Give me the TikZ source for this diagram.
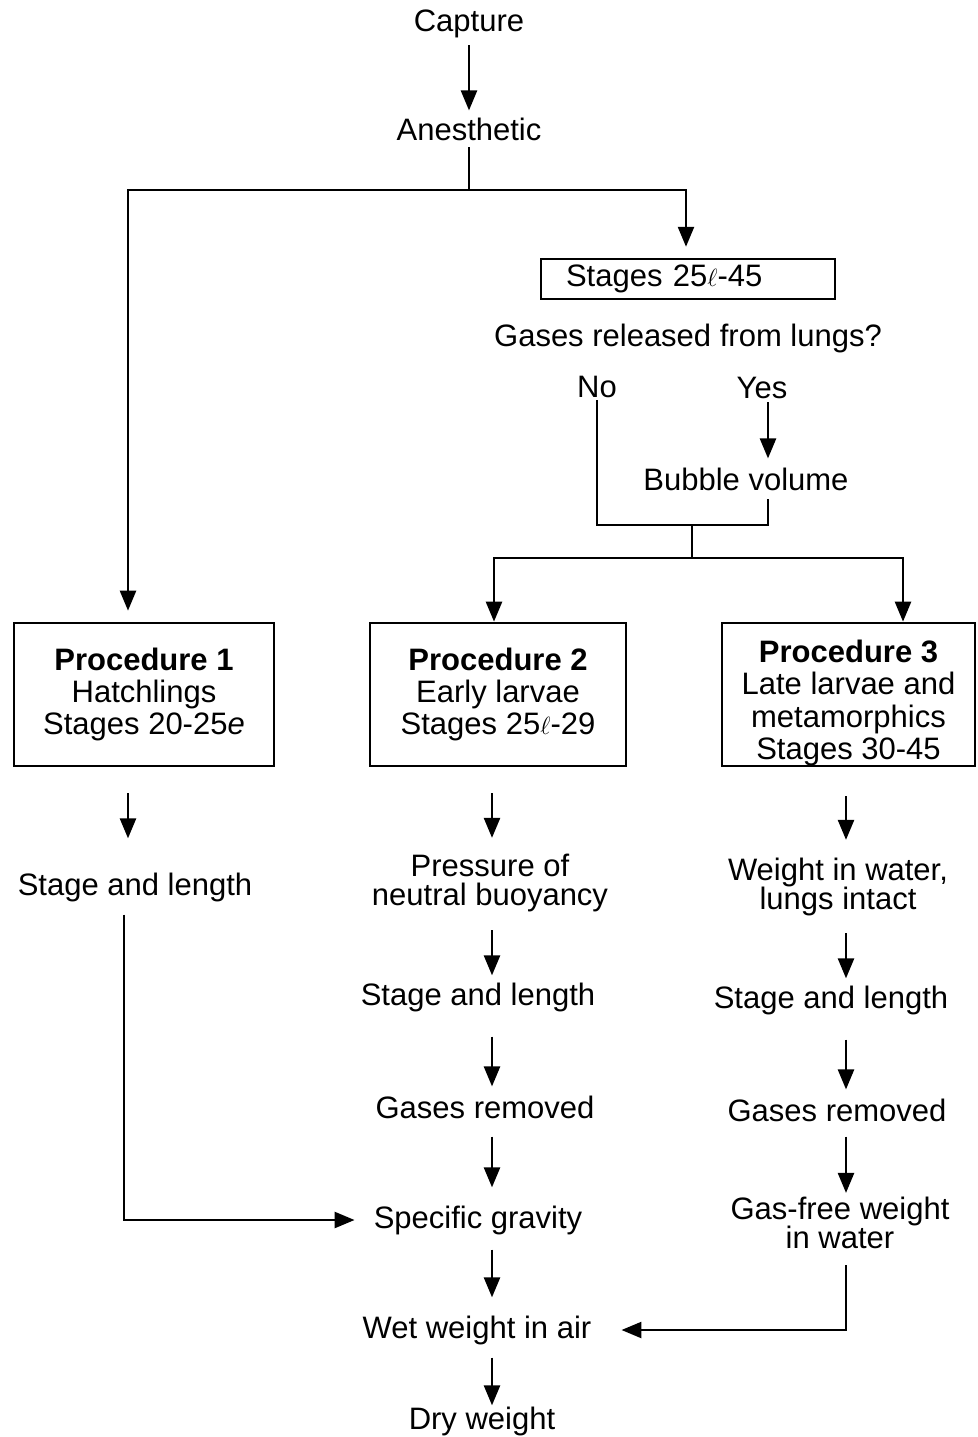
\documentclass[tikz,border=0pt]{standalone}
\usepackage{fontspec}
\setmainfont{Liberation Sans}
\usetikzlibrary{arrows.meta,calc}
\begin{document}
\begin{tikzpicture}[x=1pt,y=-1pt,
  txt/.style={inner sep=0pt, align=center, font=\fontsize{31}{29}\selectfont},
  procbox/.style={draw, line width=2.7pt, align=center, inner sep=0pt, font=\fontsize{31}{32}\selectfont},
  conn/.style={line width=2.5pt},
  arr/.style={conn, -{Triangle[width=16pt,length=20pt]}}]
\useasboundingbox (0,0) rectangle (977,1437);

% column coordinates
\coordinate (cL) at (128,0);
\coordinate (cLb) at (124,0);
\coordinate (cS) at (686,0);
\coordinate (cY) at (768,0);
\coordinate (c2a) at (494,0);
\coordinate (c3a) at (903,0);
\coordinate (c2) at (492,0);
\coordinate (c3) at (846,0);
\coordinate (split) at (469,190);
\coordinate (merge) at (692,525);
\coordinate (split2) at (692,558);

% top
\node[txt] (capture) at (469,24) {Capture};
\node[txt] (anest) at (469,129) {Anesthetic};
\node[draw, line width=2.5pt, minimum height=40pt, text width=244pt, align=left, inner xsep=25pt, inner ysep=0pt, font=\fontsize{31}{32}\selectfont] (stages) at (688,279) {Stages 25$\ell$-45};
\node[txt] (gq) at (688,338) {Gases released from lungs?};
\node[txt] (no) at (597,387) {No};
\node[txt] (yes) at (762,388) {Yes};
\node[txt] (bub) at (746,479) {Bubble volume};

% boxes
\node[procbox, minimum width=260pt, minimum height=143pt] (p1) at (144,694.5) {\textbf{Procedure 1}\\Hatchlings\\Stages 20-25\textit{e}};
\node[procbox, minimum width=256pt, minimum height=143pt] (p2) at (498,694.5) {\textbf{Procedure 2}\\Early larvae\\Stages 25$\ell$-29};
\node[procbox, minimum width=253pt, minimum height=143pt] (p3) at (848.5,694.5) {\raisebox{-10pt}[\height][\depth]{\begin{tabular}{@{}c@{}}\textbf{Procedure 3}\\Late larvae and\\metamorphics\\Stages 30-45\end{tabular}}};

% column 1
\node[txt] (st1) at (135,887) {Stage and length};
% column 2
\node[txt] (press) at (490,883) {Pressure of\\neutral buoyancy};
\node[txt] (st2) at (478,997) {Stage and length};
\node[txt] (gr2) at (485,1107) {Gases removed};
\node[txt] (spec) at (478,1220) {Specific gravity};
\node[txt] (wet) at (477,1330) {Wet weight in air};
\node[txt] (dry) at (482,1421) {Dry weight};
% column 3
\node[txt] (wiw) at (838,887) {Weight in water,\\lungs intact};
\node[txt] (st3) at (831,1000) {Stage and length};
\node[txt] (gr3) at (837,1110) {Gases removed};
\node[txt] (gf) at (840,1223) {Gas-free weight\\in water};

% connectors top
\draw[arr, shorten <=7pt, shorten >=7pt] (capture.south) -- (anest.north);
\draw[conn, shorten <=6.5pt] (anest.south) -- (split);
\draw[arr, shorten >=11pt] (split) -| (p1.north -| cL);
\draw[arr, shorten >=11pt] (split) -| (stages.north -| cS);
\draw[arr, shorten <=3pt, shorten >=9pt] (yes.south -| cY) -- (bub.north -| cY);
\draw[conn, shorten <=2pt, shorten >=8pt] (no.south) |- (merge) -| (bub.south -| cY);
\draw[conn] (merge) -- (split2);
\draw[arr] (split2) -| (p2.north -| c2a);
\draw[arr] (split2) -| (p3.north -| c3a);

% column 1 connectors
\draw[arr, shorten <=26pt, shorten >=34pt] (p1.south -| cL) -- (st1.north -| cL);
\draw[arr, shorten <=13pt, shorten >=19pt] (st1.south -| cLb) |- (spec.west);

% column 2 connectors
\draw[arr, shorten <=26pt, shorten >=16pt] (p2.south -| c2) -- (press.north -| c2);
\draw[arr, shorten <=18pt, shorten >=7pt] (press.south -| c2) -- (st2.north -| c2);
\draw[arr, shorten <=25pt, shorten >=9pt] (st2.south -| c2) -- (gr2.north -| c2);
\draw[arr, shorten <=18pt, shorten >=18pt] (gr2.south -| c2) -- (spec.north -| c2);
\draw[arr, shorten <=15pt, shorten >=18pt] (spec.south -| c2) -- (wet.north -| c2);
\draw[arr, shorten <=13pt, shorten >=1pt] (wet.south -| c2) -- (dry.north -| c2);

% column 3 connectors
\draw[arr, shorten <=29pt, shorten >=18pt] (p3.south -| c3) -- (wiw.north -| c3);
\draw[arr, shorten <=17pt, shorten >=7pt] (wiw.south -| c3) -- (st3.north -| c3);
\draw[arr, shorten <=25pt, shorten >=9pt] (st3.south -| c3) -- (gr3.north -| c3);
\draw[arr, shorten <=15pt, shorten >=4pt] (gr3.south -| c3) -- (gf.north -| c3);
\draw[arr, shorten <=16pt, shorten >=30pt] (gf.south -| c3) |- (wet.east);
\end{tikzpicture}
\end{document}
